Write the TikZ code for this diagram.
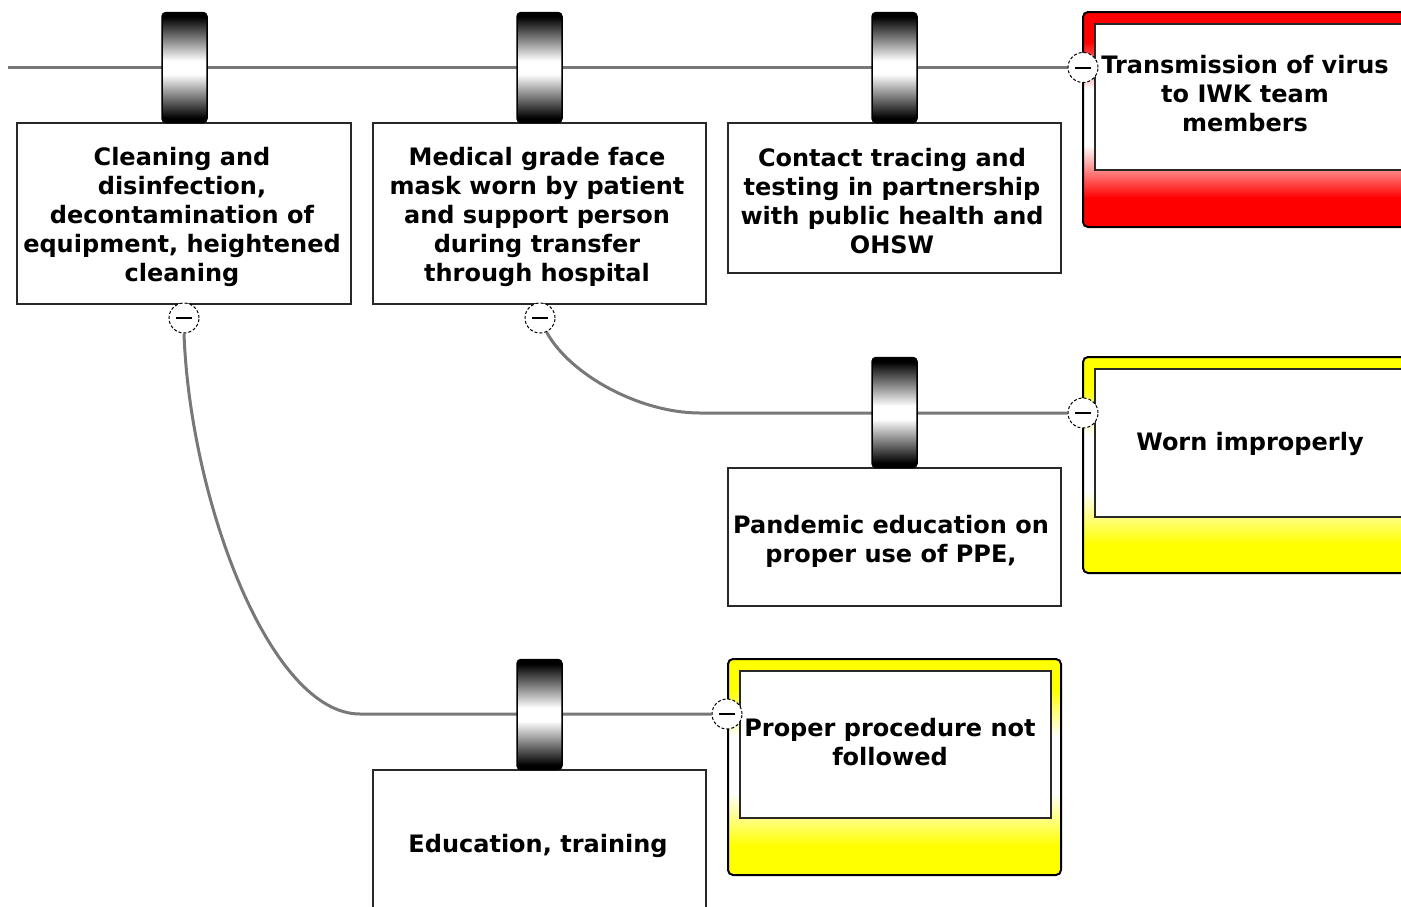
\documentclass[tikz,border=0pt]{standalone}
\usepackage{fontspec}
\setmainfont{DejaVu Sans}
\usetikzlibrary{calc}
\pgfdeclarelayer{bg}
\pgfsetlayers{bg,main}
\definecolor{hazred}{RGB}{255,0,0}
\definecolor{hazyellow}{RGB}{255,255,0}
\definecolor{linkgray}{RGB}{120,120,120}
\definecolor{edge}{RGB}{40,40,40}
% barrier barrel: dark at both ends, bright in the middle
\pgfdeclareverticalshading{barrelshade}{100bp}{color(0bp)=(black); color(27bp)=(black); color(47bp)=(white); color(53bp)=(white); color(73bp)=(black); color(100bp)=(black)}
\begin{document}
\begin{tikzpicture}[x=1pt,y=-1pt,
  txt/.style={font=\fontsize{24}{29}\selectfont\bfseries, align=center, inner sep=0pt},
  ctrlbox/.style={draw=edge, line width=2pt, fill=white, inner sep=0pt},
  barrel/.style={draw=black, line width=1.5pt, shading=barrelshade, rounded corners=4pt,
    minimum width=45, minimum height=110, inner sep=0pt},
  % frame colour: solid at top and bottom, fading to white along the middle of the side strips
  hazard/.style={rectangle, rounded corners=5pt,
    draw=black, line width=2pt, inner sep=0pt, fill=white,
    path picture={
      \coordinate (nw) at (path picture bounding box.north west);
      \coordinate (ne) at (path picture bounding box.north east);
      \coordinate (sw) at (path picture bounding box.south west);
      \coordinate (se) at (path picture bounding box.south east);
      \begin{scope}[sharp corners]
      \fill[#1] (nw) rectangle ($(ne)!0.145!(se)$);
      \shade[top color=#1, bottom color=white] ($(nw)!0.14!(sw)$) rectangle ($(ne)!0.36!(se)$);
      \shade[top color=white, bottom color=#1] ($(nw)!0.62!(sw)$) rectangle ($(ne)!0.865!(se)$);
      \fill[#1] ($(nw)!0.86!(sw)$) rectangle (se);
      \end{scope}
    }},
  panel/.style={draw=edge, line width=2pt, fill=white, inner sep=0pt},
  minus/.style={circle, draw=black, densely dashed, line width=1pt, fill=white, minimum size=30, inner sep=0pt,
    path picture={\draw[solid, line width=2pt] ([xshift=-8pt]path picture bounding box.center) -- ([xshift=8pt]path picture bounding box.center);}},
  link/.style={draw=linkgray, line width=3pt}
]
\clip (0,0) rectangle (1401,906);

% hazard: transmission of virus
\node[hazard=hazred, minimum width=337, minimum height=215] (hR) at (1251.5,119.5) {};
\node[panel, minimum width=325, minimum height=146] (hRi) at (1257.5,97) {};
\node[txt] (tR) at (1245,94) {Transmission of virus\\to IWK team\\members};

% consequence: worn improperly
\node[hazard=hazyellow, minimum width=337, minimum height=216] (hY1) at (1251.5,465) {};
\node[panel, minimum width=325, minimum height=148] (hY1i) at (1257.5,443) {};
\node[txt] (tY1) at (1250,444) {Worn improperly};

% consequence: proper procedure not followed
\node[hazard=hazyellow, minimum width=333, minimum height=216] (hY2) at (894.5,767) {};
\node[panel, minimum width=311, minimum height=147] (hY2i) at (895.5,744.5) {};
\node[txt] (tY2) at (890,742) {Proper procedure not\\followed};

% control boxes and their captions
\node[ctrlbox, minimum width=334, minimum height=181] (c1) at (184,213.5) {};
\node[txt] (c1t) at (182,217)
  {Cleaning and\\disinfection,\\decontamination of\\equipment, heightened\\cleaning};
\node[ctrlbox, minimum width=333, minimum height=181] (c2) at (539.5,213.5) {};
\node[txt] (c2t) at (537,217)
  {Medical grade face\\mask worn by patient\\and support person\\during transfer\\through hospital};
\node[ctrlbox, minimum width=333, minimum height=150] (c3) at (894.5,198) {};
\node[txt] (c3t) at (892,201)
  {Contact tracing and\\testing in partnership\\with public health and\\OHSW};
\node[ctrlbox, minimum width=333, minimum height=138] (c4) at (894.5,537) {};
\node[txt] (c4t) at (891,541)
  {Pandemic education on\\proper use of PPE,};
\node[ctrlbox, minimum width=333, minimum height=146] (c5) at (539.5,843) {};
\node[txt] (c5t) at (538,846) {Education, training};

% barriers on the lines
\node[barrel] (b1) at (184.5,67.5) {};
\node[barrel] (b2) at (539.5,67.5) {};
\node[barrel] (b3) at (894.5,67.5) {};
\node[barrel] (b4) at (894.5,412.5) {};
\node[barrel] (b5) at (539.5,714.5) {};

% escalation points
\node[minus] (mR) at (1083,67.5) {};
\node[minus] (mY1) at (1083,413) {};
\node[minus] (mY2) at (727,714) {};
\node[minus] (m1) at (184,318) {};
\node[minus] (m2) at (540,318) {};

\coordinate (start) at (8,67.5);
\coordinate (j1) at (360,714);
\coordinate (j2) at (700,413);

\begin{pgfonlayer}{bg}
\draw[link] (start) -- (mR);
\draw[link] (m2.-65) .. controls (570,375) and (640,413) .. (j2) -- (mY1);
\draw[link] (m1.south) .. controls (190,500) and (270,714) .. (j1) -- (mY2);
\end{pgfonlayer}
\end{tikzpicture}
\end{document}
